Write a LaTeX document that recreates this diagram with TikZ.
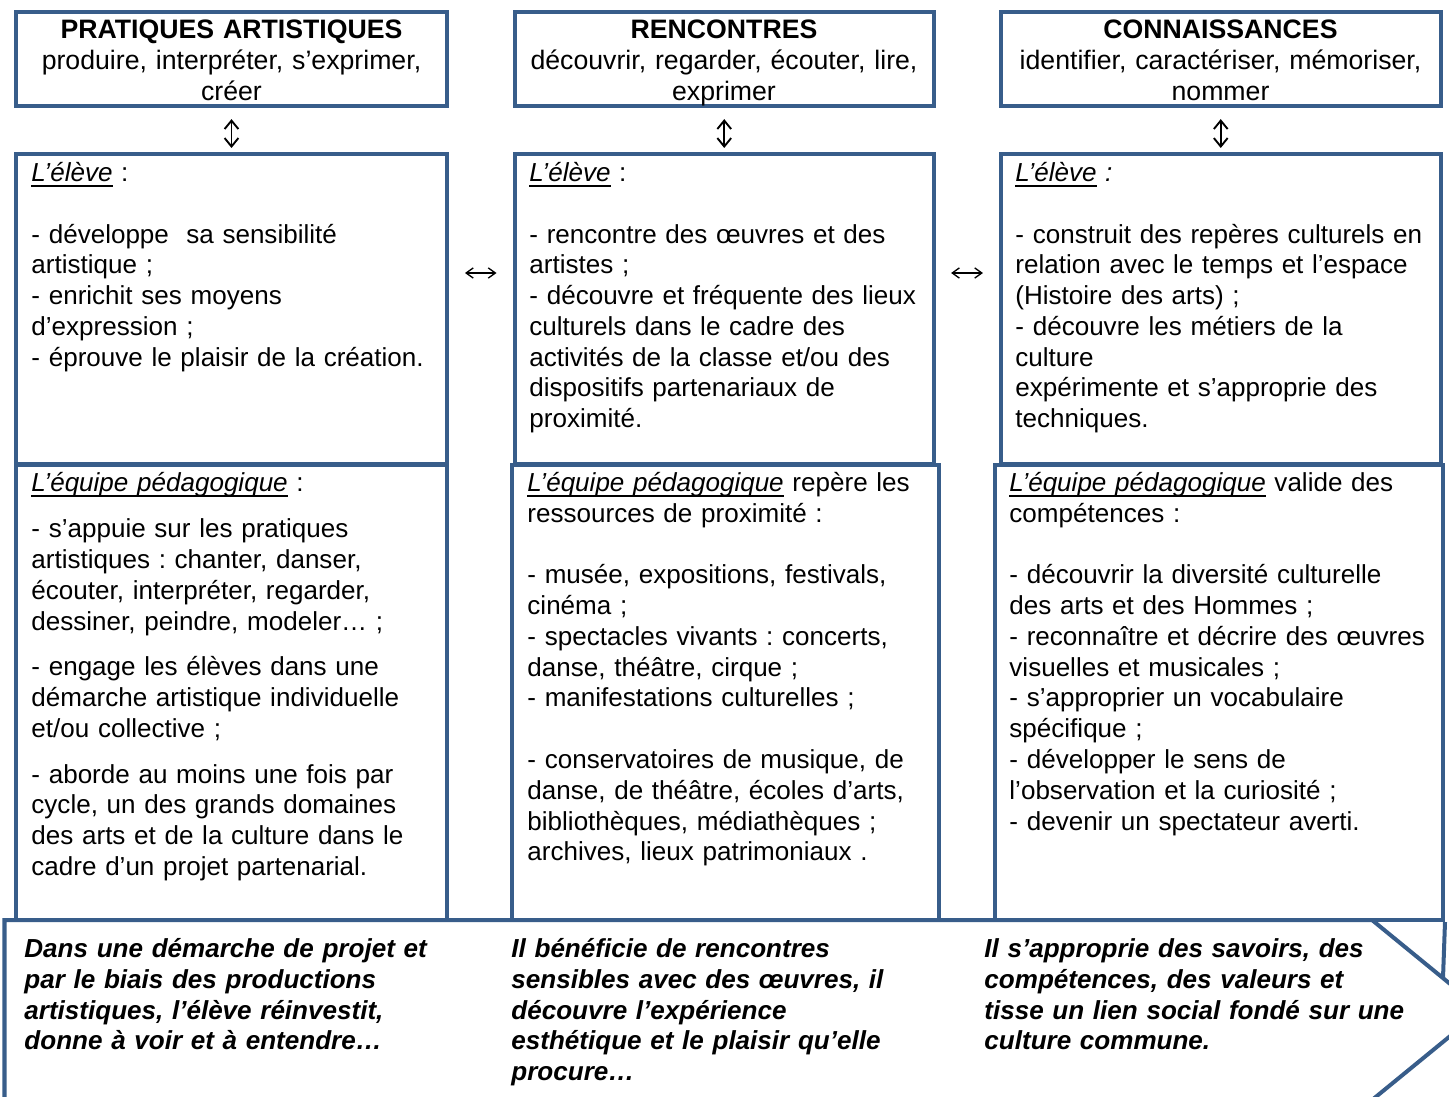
\documentclass[tikz,border=0pt]{standalone}
\usepackage{fontspec}
\setmainfont{Liberation Sans}
\usetikzlibrary{fit,arrows.meta,calc}
\definecolor{boxblue}{RGB}{56,93,138}
\newcommand\myul[1]{\setbox0\hbox{#1}\rlap{\rule[-2.3pt]{\wd0}{0.85pt}}\box0\relax}
\frenchspacing
\begin{document}
\begin{tikzpicture}[x=0.45pt,y=-0.45pt,
  box/.style={draw=boxblue,line width=1.8pt,inner sep=0pt},
  txt/.style={anchor=base west,inner sep=0pt,text width=210pt,align=left,font={\fontsize{11.72pt}{13.85pt}\selectfont\frenchspacing}},
  hdr/.style={anchor=base,inner sep=0pt,text width=210pt,align=center,font={\fontsize{12pt}{13.85pt}\selectfont\frenchspacing}},
  concl/.style={txt,font={\fontsize{11.72pt}{13.85pt}\selectfont\bfseries\itshape\frenchspacing}},
  dbl/.style={{Straight Barb[length=3.8pt,width=6.2pt]}-{Straight Barb[length=3.8pt,width=6.2pt]},line width=0.85pt,black},
  hdbl/.style={{Straight Barb[length=3.2pt,width=4.6pt]}-{Straight Barb[length=3.2pt,width=4.6pt]},line width=0.6pt,black}
]
\path[use as bounding box] (0,0) rectangle (1449,1097);
\clip (0,0) rectangle (1449,1097);

% corner coordinates
\coordinate (h1a) at (16,12);    \coordinate (h1b) at (447,106);
\coordinate (h2a) at (514.5,12); \coordinate (h2b) at (934,106);
\coordinate (h3a) at (1000.5,12);\coordinate (h3b) at (1441,106);
\coordinate (e1a) at (16,154);   \coordinate (e1b) at (447,464);
\coordinate (e2a) at (514.5,154);\coordinate (e2b) at (934,464);
\coordinate (e3a) at (1000.5,154);\coordinate (e3b) at (1441,464);
\coordinate (q1a) at (15.5,465); \coordinate (q1b) at (447,920);
\coordinate (q2a) at (511.5,465);\coordinate (q2b) at (939,920);
\coordinate (q3a) at (995,465);  \coordinate (q3b) at (1443,920);

\node[box,fit=(h1a)(h1b)] (h1) {};
\node[box,fit=(h2a)(h2b)] (h2) {};
\node[box,fit=(h3a)(h3b)] (h3) {};
\node[box,fit=(e1a)(e1b)] (e1) {};
\node[box,fit=(e2a)(e2b)] (e2) {};
\node[box,fit=(e3a)(e3b)] (e3) {};
\node[box,fit=(q1a)(q1b)] (q1) {};
\node[box,fit=(q2a)(q2b)] (q2) {};
\node[box,fit=(q3a)(q3b)] (q3) {};

% bottom chevron band
\draw[boxblue,line width=1.8pt] (4.5,1100) -- (4.5,920) -- (1372,920) -- (1482,1010) -- (1372,1100) -- cycle;
\coordinate (join) at (1443,978);
\draw[boxblue,line width=1.8pt] (q3.south east) -- (join);

% headers
\node[hdr] (t_h1) at (231.5,38.5) {\textbf{PRATIQUES ARTISTIQUES}\\produire, interpréter, s’exprimer,\\créer};
\node[hdr] (t_h2) at (724,38.5) {\textbf{RENCONTRES}\\découvrir, regarder, écouter, lire,\\exprimer};
\node[hdr] (t_h3) at (1220.5,38.5) {\textbf{CONNAISSANCES}\\identifier, caractériser, mémoriser,\\nommer};

% eleve boxes
\node[txt] (t_e1) at (31,181.5) {\myul{\textit{L’élève}} :\\[13.85pt]
- développe~ sa sensibilité\\
artistique ;\\
- enrichit ses moyens\\
d’expression ;\\
- éprouve le plaisir de la création.};
\node[txt] (t_e2) at (529,181.5) {\myul{\textit{L’élève}} :\\[13.85pt]
- rencontre des œuvres et des\\
artistes ;\\
- découvre et fréquente des lieux\\
culturels dans le cadre des\\
activités de la classe et/ou des\\
dispositifs partenariaux de\\
proximité.};
\node[txt] (t_e3) at (1015,181.5) {\myul{\textit{L’élève}}\textit{ :}\\[13.85pt]
- construit des repères culturels en\\
relation avec le temps et l’espace\\
(Histoire des arts) ;\\
- découvre les métiers de la\\
culture\\
expérimente et s’approprie des\\
techniques.};

% equipe boxes
\node[txt] (t_q1) at (31,491.5) {\myul{\textit{L’équipe pédagogique}} :\\[7pt]
- s’appuie sur les pratiques\\
artistiques : chanter, danser,\\
écouter, interpréter, regarder,\\
dessiner, peindre, modeler… ;\\[6.7pt]
- engage les élèves dans une\\
démarche artistique individuelle\\
et/ou collective ;\\[6.7pt]
- aborde au moins une fois par\\
cycle, un des grands domaines\\
des arts et de la culture dans le\\
cadre d’un projet partenarial.};
\node[txt] (t_q2) at (527,491.5) {\myul{\textit{L’équipe pédagogique}} repère les\\
ressources de proximité :\\[13.85pt]
- musée, expositions, festivals,\\
cinéma ;\\
- spectacles vivants : concerts,\\
danse, théâtre, cirque ;\\
- manifestations culturelles ;\\[13.85pt]
- conservatoires de musique, de\\
danse, de théâtre, écoles d’arts,\\
bibliothèques, médiathèques ;\\
archives, lieux patrimoniaux .};
\node[txt] (t_q3) at (1009,491.5) {\myul{\textit{L’équipe pédagogique}} valide des\\
compétences :\\[13.85pt]
- découvrir la diversité culturelle\\
des arts et des Hommes ;\\
- reconnaître et décrire des œuvres\\
visuelles et musicales ;\\
- s’approprier un vocabulaire\\
spécifique ;\\
- développer le sens de\\
l’observation et la curiosité ;\\
- devenir un spectateur averti.};

% conclusions
\node[concl] (t_c1) at (24,957.5) {Dans une démarche de projet et\\
par le biais des productions\\
artistiques, l’élève réinvestit,\\
donne à voir et à entendre…};
\node[concl] (t_c2) at (511,957.5) {Il bénéficie de rencontres\\
sensibles avec des œuvres, il\\
découvre l’expérience\\
esthétique et le plaisir qu’elle\\
procure…};
\node[concl] (t_c3) at (984,957.5) {Il s’approprie des savoirs, des\\
compétences, des valeurs et\\
tisse un lien social fondé sur une\\
culture commune.};

% arrows
\draw[dbl,shorten <=5pt,shorten >=1.8pt] (h1.south) -- (e1.north);
\draw[dbl,shorten <=5pt,shorten >=1.8pt] (h2.south) -- (e2.north);
\draw[dbl,shorten <=5pt,shorten >=1.8pt] (h3.south) -- (e3.north);
\draw[hdbl,shorten <=7.2pt,shorten >=7.2pt] ([yshift=16.2pt]e1.east) -- ([yshift=16.2pt]e2.west);
\draw[hdbl,shorten <=6.8pt,shorten >=7pt] ([yshift=16.2pt]e2.east) -- ([yshift=16.2pt]e3.west);
\end{tikzpicture}
\end{document}
